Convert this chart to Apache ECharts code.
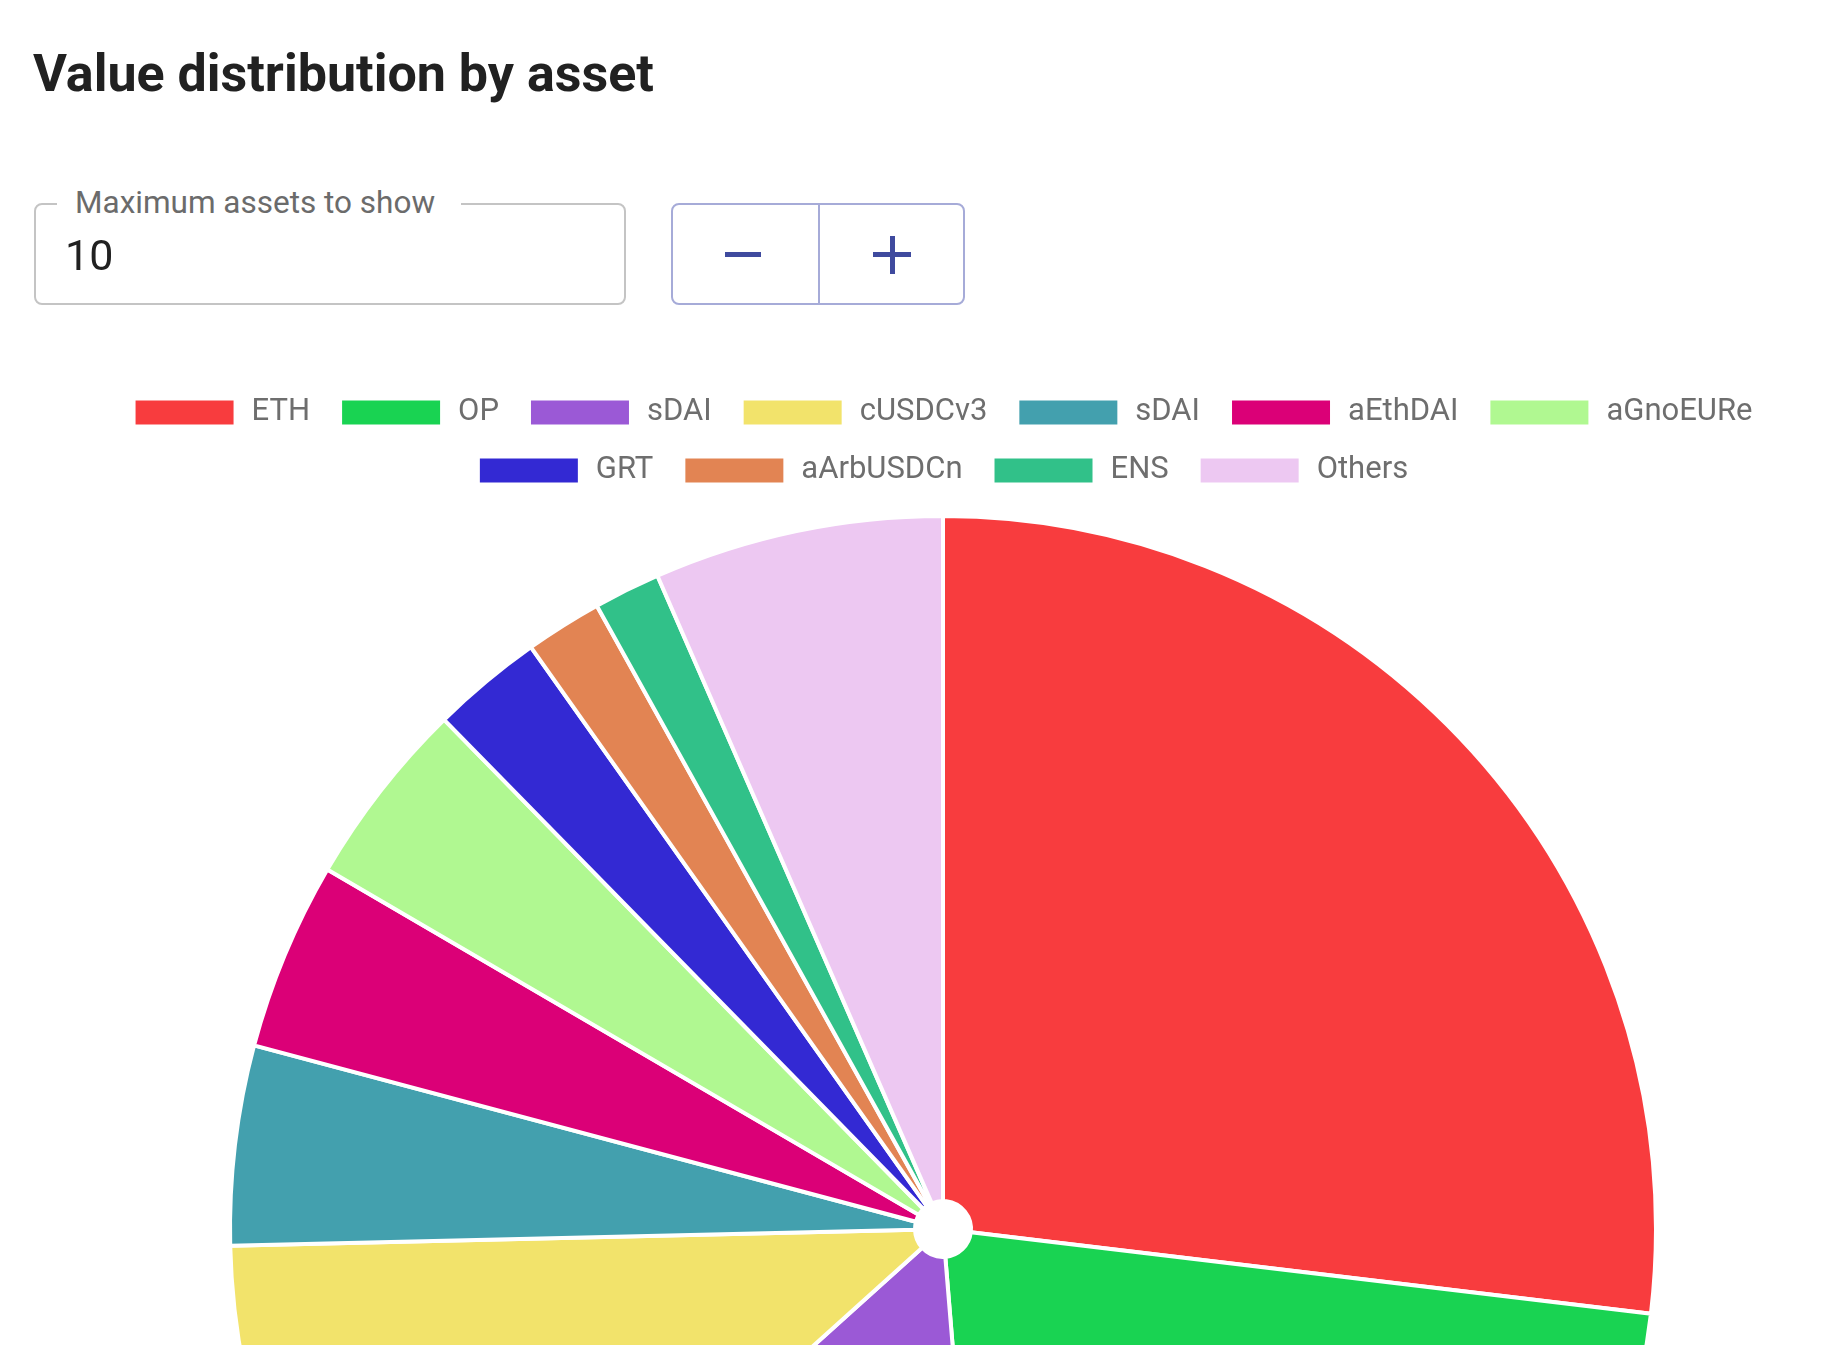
<!DOCTYPE html>
<html>
<head>
<meta charset="utf-8">
<script src="https://cdn.jsdelivr.net/npm/echarts@6/dist/echarts.min.js"></script>
<style>
    html, body { margin: 0; padding: 0; background: #fff; overflow: hidden; width: 1848px; height: 1345px; font-family: Roboto, "Noto Sans", sans-serif; }
    #title { position: absolute; left: 33px; top: 42px; font-size: 52px; font-weight: 700; color: #212121; line-height: 64px; white-space: nowrap; }
    .field { position: absolute; left: 34px; top: 203px; width: 592px; height: 102px; box-sizing: border-box; border: 2px solid #c4c4c4; border-radius: 8px; }
    .field .label { position: absolute; left: 21px; top: -22px; padding: 0 26px 0 18px; background: #fff; color: #6b6b6b; font-size: 31.5px; line-height: 40px; white-space: nowrap; }
    .field .value { position: absolute; left: 29px; top: 21px; font-size: 43px; line-height: 58px; color: #212121; }
    .btns { position: absolute; left: 671px; top: 203px; width: 294px; height: 102px; box-sizing: border-box; border: 2px solid #a6abd8; border-radius: 8px; }
    .btns .sep { position: absolute; left: 145px; top: 0; width: 2px; height: 100%; background: #a6abd8; }
    .bar { position: absolute; background: #3f4a9e; }
    #chart { position: absolute; left: 0; top: 0; width: 1886px; height: 2000px; }
</style>
</head>
<body>
<div id="chart"></div>
<div id="title">Value distribution by asset</div>
<div class="field">
    <div class="label">Maximum assets to show</div>
    <div class="value">10</div>
</div>
<div class="btns">
    <div class="sep"></div>
    <!-- minus -->
    <div class="bar" style="left:52px;top:47px;width:36px;height:5px;"></div>
    <!-- plus -->
    <div class="bar" style="left:200px;top:47px;width:38px;height:5px;"></div>
    <div class="bar" style="left:216.5px;top:30.5px;width:5px;height:38px;"></div>
</div>
<script>
    // 资产名称 / 数值 / 颜色
    var assetNames = ['ETH', 'OP', 'sDAI', 'cUSDCv3', 'sDAI', 'aEthDAI', 'aGnoEURe', 'GRT', 'aArbUSDCn', 'ENS', 'Others'];
    var assetValues = [26.9, 21.8, 14.64, 11.3, 4.52, 4.27, 4.25, 2.53, 1.74, 1.51, 6.56];
    var assetColors = ['#f83c3e', '#19d352', '#9b59d6', '#f2e36b', '#43a0ae', '#db0077', '#b0f891', '#3329d3', '#e28453', '#31c189', '#edc8f2'];

    var legendRows = [[0, 7], [7, 11]];
    var legendTops = [392, 450];

    // 名称有重复 (sDAI)，内部用 name#index 区分
    function keyOf(i) { return assetNames[i] + '#' + i; }

    var chart = echarts.init(document.getElementById('chart'));

    var pieData = assetNames.map(function (name, i) {
        return { name: keyOf(i), value: assetValues[i], itemStyle: { color: assetColors[i] } };
    });

    var legends = legendRows.map(function (row, r) {
        var items = [];
        for (var i = row[0]; i < row[1]; i++) {
            items.push({ name: keyOf(i), itemStyle: { color: assetColors[i] } });
        }
        return {
            top: legendTops[r],
            left: 'center',
            icon: 'rect',
            itemWidth: 100,
            itemHeight: 26,
            itemGap: 30,
            formatter: function (name) { return name.split('#')[0]; },
            textStyle: { fontSize: 31, color: '#6e6e6e', fontFamily: 'Roboto', padding: [0, 0, 0, 12] },
            data: items
        };
    });

    chart.setOption({
        animation: false,
        legend: legends,
        series: [
            {
                type: 'pie',
                center: ['50%', 1229],
                radius: [28, 713],
                label: { show: false },
                labelLine: { show: false },
                itemStyle: { borderColor: '#fff', borderWidth: 4 },
                data: pieData
            }
        ]
    });
</script>
</body>
</html>
